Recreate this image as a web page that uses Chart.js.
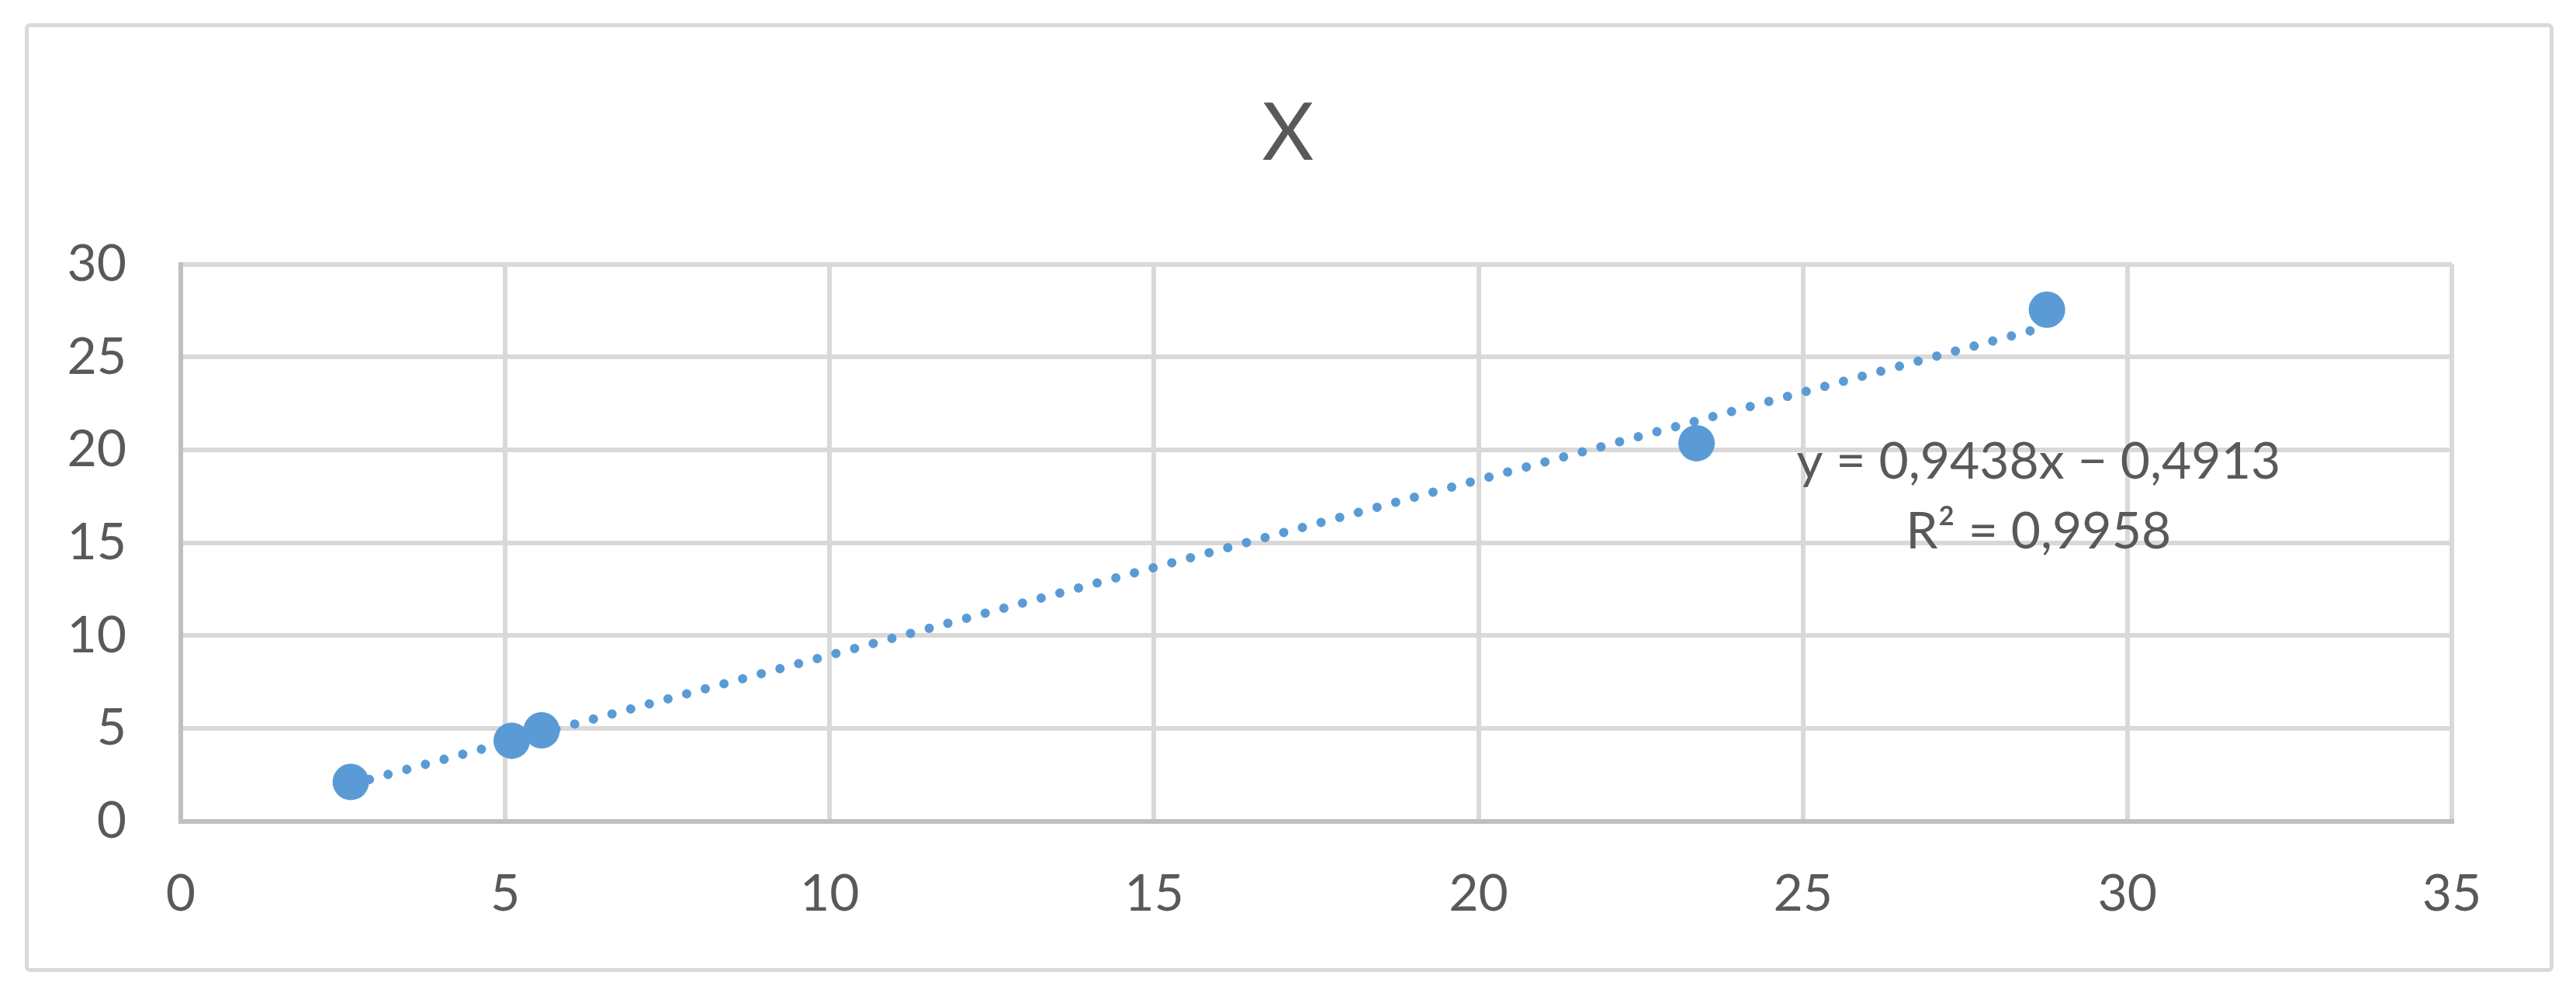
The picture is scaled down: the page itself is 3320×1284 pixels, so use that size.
<!DOCTYPE html>
<html>
<head>
<meta charset="utf-8">
<title>X</title>
<script src="https://cdn.jsdelivr.net/npm/chart.js@4.4.1/dist/chart.umd.min.js"></script>
<style>
  html, body { margin: 0; padding: 0; background: #ffffff; }
  #wrap { width: 3320px; height: 1284px; }
</style>
</head>
<body>
<div id="wrap"><canvas id="chart" width="3320" height="1284"></canvas></div>
<script>
// Measured points
const xValues = [2.62, 5.1, 5.56, 23.36, 28.76];
const yValues = [2.12, 4.34, 4.9, 20.36, 27.55];

// Linear trendline as printed on the chart
const slope = 0.9438;
const intercept = -0.4913;
const rSquared = "0,9958";

// Axis ticks
const xTicks = [0, 5, 10, 15, 20, 25, 30, 35];
const yTicks = [0, 5, 10, 15, 20, 25, 30];

const chartTitle = "X";
const eqLines = ["y = 0,9438x − 0,4913", "R² = " + rSquared];
// where the equation label sits (value coords of the first line's baseline)
const eqAnchor = { x: 28.63, y: 18.46 };

const textColor = "#595959";
const blue = "#5b9bd5";

const points = xValues.map((x, i) => ({ x: x, y: yValues[i] }));

// trendline runs from first to last x
const xMin = Math.min(...xValues);
const xMax = Math.max(...xValues);
const trend = [
  { x: xMin, y: slope * xMin + intercept },
  { x: xMax, y: slope * xMax + intercept },
];

// outer frame around the whole chart
const frame = {
  id: "frame",
  beforeDraw(chart) {
    const ctx = chart.ctx;
    ctx.save();
    ctx.fillStyle = "#ffffff";
    ctx.fillRect(0, 0, chart.width, chart.height);
    ctx.strokeStyle = "#d9d9d9";
    ctx.lineWidth = 5;
    ctx.beginPath();
    ctx.roundRect(34.5, 32.5, 3254, 1218, 4);
    ctx.stroke();
    ctx.restore();
  },
};

// title is centred on the whole canvas, not on the padded area
const centreTitle = {
  id: "centreTitle",
  afterLayout(chart) {
    if (chart.titleBlock) {
      chart.titleBlock.left = 0;
      chart.titleBlock.right = chart.width;
    }
  },
};

// trendline equation text
const eqLabel = {
  id: "eqLabel",
  afterDatasetsDraw(chart) {
    const { ctx, scales } = chart;
    const px = scales.x.getPixelForValue(eqAnchor.x);
    const py = scales.y.getPixelForValue(eqAnchor.y);
    ctx.save();
    ctx.font = "66px Lato";
    ctx.fillStyle = textColor;
    ctx.textAlign = "center";
    ctx.textBaseline = "alphabetic";
    eqLines.forEach((line, i) => ctx.fillText(line, px, py + i * 90));
    ctx.restore();
  },
};

new Chart(document.getElementById("chart"), {
  type: "scatter",
  plugins: [frame, centreTitle, eqLabel],
  data: {
    datasets: [
      {
        label: "trend",
        data: trend,
        showLine: true,
        borderColor: blue,
        borderWidth: 12,
        borderDash: [0.01, 24.9],
        borderCapStyle: "round",
        pointRadius: 0,
        order: 0,
      },
      {
        label: "X",
        data: points,
        backgroundColor: blue,
        borderWidth: 0,
        pointRadius: 23.5,
        pointHoverRadius: 23.5,
        order: 1,
      },
    ],
  },
  options: {
    responsive: false,
    devicePixelRatio: 1,
    animation: false,
    layout: { padding: { left: 8, right: 160, top: 40, bottom: 38 } },
    plugins: {
      legend: { display: false },
      tooltip: { enabled: false },
      title: {
        display: true,
        text: chartTitle,
        color: textColor,
        font: { family: "Lato", size: 103, weight: "normal" },
        padding: { top: 71, bottom: 106 },
      },
    },
    scales: {
      x: {
        type: "linear",
        min: 0,
        max: 35,
        afterBuildTicks: (scale) => { scale.ticks = xTicks.map((v) => ({ value: v })); },
        grid: { color: "#d9d9d9", lineWidth: 6, drawTicks: false },
        border: { color: "#bfbfbf", width: 6 },
        ticks: {
          color: textColor,
          font: { family: "Lato", size: 66 },
          padding: 54,
          maxRotation: 0,
          autoSkip: false,
        },
      },
      y: {
        type: "linear",
        min: 0,
        max: 30,
        afterBuildTicks: (scale) => { scale.ticks = yTicks.map((v) => ({ value: v })); },
        afterFit: (scale) => { scale.width = 225; },
        grid: { color: "#d9d9d9", lineWidth: 6, drawTicks: false },
        border: { color: "#bfbfbf", width: 6 },
        ticks: {
          color: textColor,
          font: { family: "Lato", size: 66 },
          padding: 70,
          autoSkip: false,
        },
      },
    },
  },
});
</script>
</body>
</html>
